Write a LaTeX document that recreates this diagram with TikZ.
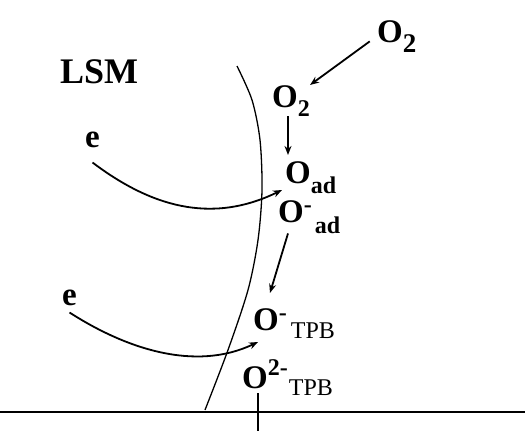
\documentclass[tikz,border=0pt]{standalone}
\usepackage{fontspec}
\setmainfont{Liberation Serif}
\usetikzlibrary{arrows.meta}

\newcommand{\dn}[2][9pt]{\raisebox{-#1}{\fontsize{24}{26}\selectfont #2}}
\newcommand{\up}[2][10pt]{\raisebox{#1}{\fontsize{24}{26}\selectfont #2}}

\tikzset{
  spec/.style={anchor=base west, inner sep=0pt, font=\bfseries\fontsize{33}{35}\selectfont},
  arr/.style={line width=1.8pt, -{Stealth[length=9pt,width=7pt]}},
}

\begin{document}
\begin{tikzpicture}[x=1pt,y=-1pt]
    \useasboundingbox (0,0) rectangle (525,431);

    % LSM grain boundary
    \draw[line width=1.3pt] plot[smooth] coordinates {(237,66) (252,100) (260,140) (262,190) (258,240) (248,290) (228,350) (205,410)};

    % Electrolyte surface
    \draw[line width=2.8pt] (0,412) -- (525,412);

    % Species
    \node[spec, font=\bfseries\fontsize{36}{38}\selectfont] (lsm) at (60,83) {LSM};
    \node[spec] (o2gas) at (377,42) {O\dn[10pt]{\fontsize{27}{28}\selectfont 2}};
    \node[spec] (o2s) at (272,107) {O\dn{2}};
    \node[spec] (oad) at (285,183) {O\dn[10pt]{ad}};
    \node[spec] (oadm) at (278,222) {O\up[9.5pt]{-}\kern3pt\dn[11pt]{ad}};
    \node[spec] (otpb) at (253,330) {O\up[9.5pt]{-}\kern4pt\dn[8pt]{\mdseries TPB}};
    \node[spec] (o2tpb) at (242,388) {O\up[13pt]{2-}\kern1pt\dn[7pt]{\mdseries TPB}};
    \node[spec] (e1) at (85,147) {e};
    \node[spec] (e2) at (62,305) {e};

    % Reaction steps
    \draw[arr, shorten <=9pt] (o2gas.west) -- (o2s.north east);
    \draw[arr] ([xshift=16pt]o2s.south west) -- ([xshift=3pt,yshift=6pt]oad.north west);
    \draw[arr] ([xshift=10pt]oadm.south west) -- ([xshift=17pt,yshift=15pt]otpb.north west);

    % Electron transfer
    \draw[arr] ([yshift=-15pt]e1.south) .. controls +(57,43) and +(-72,35) .. ([xshift=-3pt,yshift=-7pt]oad.base west);
    \draw[arr] ([yshift=-7pt]e2.south) .. controls +(56,36) and +(-63,30) .. ([xshift=5pt,yshift=-12pt]otpb.base west);

    % Incorporation into the electrolyte
    \draw[line width=1.8pt] ([xshift=16pt,yshift=2pt]o2tpb.south west) -- ++(0,40);
\end{tikzpicture}
\end{document}
